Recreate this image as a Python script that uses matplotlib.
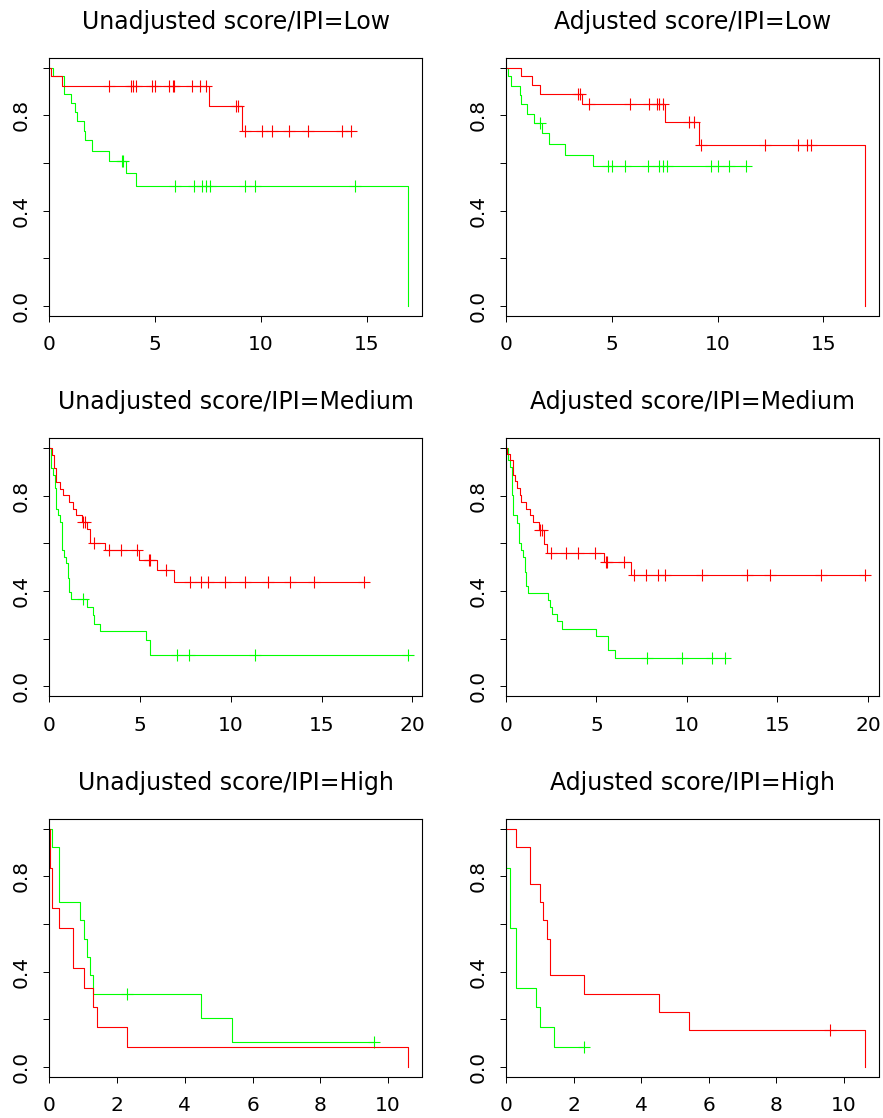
import numpy as np
import matplotlib
matplotlib.use("Agg")
import matplotlib.pyplot as plt

plt.rcParams["font.family"] = ["DejaVu Sans"]

# Courbes de survie : temps des evenements, survie apres
# chaque evenement, temps des censures (rouge et vert pour chaque panneau)

# Unadjusted / Low
ul_red_t = [0.10, 0.61, 7.53, 9.10]
ul_red_s = [0.964, 0.923, 0.839, 0.734]
ul_red_c = [2.80, 3.88, 3.96, 4.07, 4.83, 5.00, 5.63, 5.82, 5.88, 6.73, 7.12,
            7.41, 8.80, 8.90, 9.23, 10.02, 10.52, 11.32, 12.20, 13.84, 14.23]
ul_green_t = [0.19, 0.71, 1.01, 1.21, 1.29, 1.62, 1.70, 2.01, 2.80, 3.60, 4.10, 16.93]
ul_green_s = [0.964, 0.889, 0.853, 0.814, 0.775, 0.734, 0.695, 0.650, 0.607,
              0.557, 0.505, 0.0]
ul_green_c = [3.41, 3.49, 5.91, 6.81, 7.22, 7.41, 7.59, 9.23, 9.73, 14.42]

# Adjusted / Low
al_red_t = [0.71, 1.21, 1.62, 3.61, 7.52, 9.11, 16.95]
al_red_s = [0.964, 0.926, 0.889, 0.849, 0.772, 0.674, 0.0]
al_red_c = [3.41, 3.49, 3.93, 5.86, 6.74, 7.14, 7.21, 7.40, 8.64, 8.89, 9.22,
            12.22, 13.82, 14.21, 14.40]
al_green_t = [0.08, 0.22, 0.64, 0.71, 0.99, 1.30, 1.71, 2.01, 2.81, 4.11]
al_green_s = [0.964, 0.924, 0.884, 0.845, 0.807, 0.768, 0.724, 0.680, 0.635, 0.585]
al_green_c = [1.60, 4.82, 5.00, 5.61, 6.72, 7.21, 7.41, 7.60, 9.69, 10.00, 10.52, 11.32]

# Unadjusted / Medium
um_red_t = [0.15, 0.28, 0.37, 0.59, 0.75, 1.07, 1.29, 1.47, 1.80, 2.08, 2.26,
            3.07, 4.94, 5.94, 6.86]
um_red_s = [0.972, 0.916, 0.856, 0.829, 0.801, 0.773, 0.745, 0.717, 0.689,
            0.659, 0.601, 0.570, 0.531, 0.488, 0.439]
um_red_c = [1.86, 1.99, 2.46, 3.31, 3.97, 4.85, 5.48, 5.55, 6.45, 7.76, 8.38,
            8.75, 9.67, 10.79, 12.04, 13.25, 14.56, 17.35]
um_green_t = [0.07, 0.18, 0.29, 0.37, 0.49, 0.61, 0.70, 0.79, 0.92, 1.03, 1.10,
              1.18, 2.08, 2.39, 2.46, 2.78, 5.33, 5.57]
um_green_s = [0.916, 0.887, 0.832, 0.745, 0.717, 0.688, 0.572, 0.544, 0.515,
              0.454, 0.395, 0.364, 0.332, 0.297, 0.262, 0.231, 0.196, 0.131]
um_green_c = [1.84, 7.02, 7.67, 11.36, 19.76]

# Adjusted / Medium
am_red_t = [0.07, 0.20, 0.40, 0.50, 0.62, 0.75, 0.81, 1.08, 1.31, 1.51, 1.85,
            2.08, 2.28, 5.42, 6.93]
am_red_s = [0.975, 0.947, 0.887, 0.859, 0.831, 0.801, 0.773, 0.745, 0.717,
            0.689, 0.655, 0.595, 0.561, 0.523, 0.467]
am_red_c = [1.89, 1.99, 2.50, 3.31, 3.99, 4.91, 5.51, 5.59, 6.51, 7.10, 7.72,
            8.42, 8.77, 10.81, 13.31, 14.61, 17.41, 19.82]
am_green_t = [0.11, 0.22, 0.35, 0.40, 0.59, 0.70, 0.83, 0.92, 1.03, 1.10, 1.21,
              2.33, 2.43, 2.52, 2.83, 3.10, 5.00, 5.63, 6.00]
am_green_s = [0.951, 0.919, 0.801, 0.717, 0.686, 0.600, 0.571, 0.541, 0.481,
              0.420, 0.391, 0.362, 0.333, 0.301, 0.273, 0.242, 0.210, 0.150, 0.119]
am_green_c = [7.79, 9.72, 11.40, 12.10]

# Unadjusted / High
uh_red_t = [0.01, 0.09, 0.30, 0.70, 1.01, 1.30, 1.42, 2.30, 10.59]
uh_red_s = [0.833, 0.667, 0.583, 0.417, 0.333, 0.250, 0.167, 0.083, 0.0]
uh_red_c = []
uh_green_t = [0.09, 0.30, 0.90, 1.01, 1.10, 1.19, 1.30, 4.49, 5.40]
uh_green_s = [0.923, 0.692, 0.615, 0.538, 0.462, 0.385, 0.308, 0.205, 0.103]
uh_green_c = [2.29, 9.59]

# Adjusted / High
ah_red_t = [0.31, 0.70, 1.00, 1.10, 1.21, 1.31, 2.31, 4.52, 5.41, 10.62]
ah_red_s = [0.923, 0.769, 0.692, 0.615, 0.538, 0.385, 0.308, 0.231, 0.154, 0.0]
ah_red_c = [9.60]
ah_green_t = [0.01, 0.11, 0.31, 0.90, 1.00, 1.41]
ah_green_s = [0.833, 0.583, 0.333, 0.250, 0.167, 0.083]
ah_green_c = [2.31]

titles = [
    "Unadjusted score/IPI=Low", "Adjusted score/IPI=Low",
    "Unadjusted score/IPI=Medium", "Adjusted score/IPI=Medium",
    "Unadjusted score/IPI=High", "Adjusted score/IPI=High",
]
xticks = [[0, 5, 10, 15], [0, 5, 10, 15],
          [0, 5, 10, 15, 20], [0, 5, 10, 15, 20],
          [0, 2, 4, 6, 8, 10], [0, 2, 4, 6, 8, 10]]
yticks = [0, 0.2, 0.4, 0.6, 0.8, 1.0]
ylabels = ["0.0", "", "0.4", "", "0.8", ""]

panels = [
    ((ul_red_t, ul_red_s, ul_red_c), (ul_green_t, ul_green_s, ul_green_c)),
    ((al_red_t, al_red_s, al_red_c), (al_green_t, al_green_s, al_green_c)),
    ((um_red_t, um_red_s, um_red_c), (um_green_t, um_green_s, um_green_c)),
    ((am_red_t, am_red_s, am_red_c), (am_green_t, am_green_s, am_green_c)),
    ((uh_red_t, uh_red_s, uh_red_c), (uh_green_t, uh_green_s, uh_green_c)),
    ((ah_red_t, ah_red_s, ah_red_c), (ah_green_t, ah_green_s, ah_green_c)),
]


def km_curve(ax, t, s, c, color):
    """
    Trace une courbe de Kaplan-Meier en escalier avec les censures (+)
    """
    t = np.asarray(t, dtype=float)
    s = np.asarray(s, dtype=float)
    c = np.asarray(c, dtype=float)
    x = np.concatenate([[0.0], t])
    y = np.concatenate([[1.0], s])
    t_end = max(t.max(), c.max() if len(c) else 0)
    if t_end > t.max():
        x = np.append(x, t_end)
        y = np.append(y, y[-1])
    ax.step(x, y, where="post", color=color, lw=0.8)
    if len(c):
        idx = np.searchsorted(t, c, side="right")
        cy = np.concatenate([[1.0], s])[idx]
        ax.plot(c, cy, "+", color=color, ms=8, mew=0.8, ls="none")
    return t_end


W, H = 883, 1118
fig = plt.figure(figsize=(W / 100, H / 100), dpi=100)

lefts = [49.3, 506]
tops = [58, 438.3, 819]
aw, ah = 373, 257.5

for k, (red, green) in enumerate(panels):
    row, col = divmod(k, 2)
    ax = fig.add_axes([lefts[col] / W, 1 - (tops[row] + ah) / H, aw / W, ah / H])
    tmax = 0
    tmax = max(tmax, km_curve(ax, *green, "#00FF00"))
    tmax = max(tmax, km_curve(ax, *red, "#FF0000"))
    ax.set_xlim(0, tmax * 1.04)
    ax.set_ylim(-0.04, 1.04)
    ax.set_xticks(xticks[k])
    ax.set_yticks(yticks)
    ax.set_yticklabels(ylabels)
    ax.tick_params(direction="out", length=4.3, width=0.7, labelsize=14.5)
    ax.tick_params(axis="x", pad=10)
    ax.tick_params(axis="y", pad=9, labelrotation=90)
    plt.setp(ax.get_yticklabels(), va="center")
    for sp in ax.spines.values():
        sp.set_linewidth(0.8)
    ax.set_title(titles[k], fontsize=17, pad=21)

fig.savefig("out.png", dpi=100)
